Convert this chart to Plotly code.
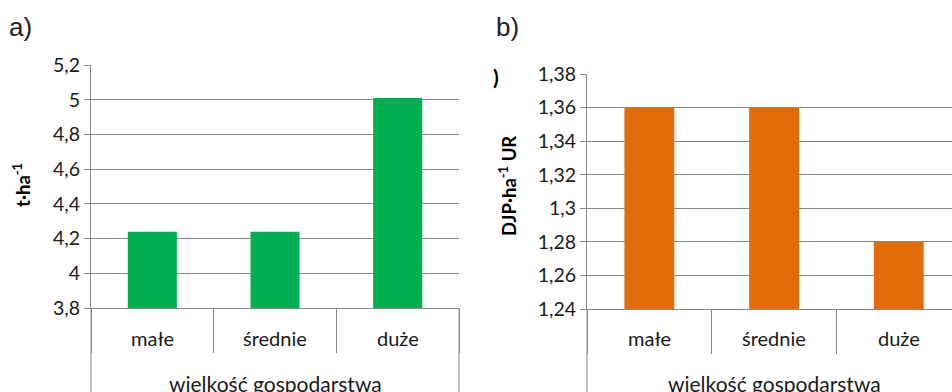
import plotly.graph_objects as go

categories = ["małe", "średnie", "duże"]
yield_values = [4.24, 4.24, 5.01]
livestock_values = [1.36, 1.36, 1.28]
left_ticks = [3.8, 4.0, 4.2, 4.4, 4.6, 4.8, 5.0, 5.2]
left_ticktext = ["3,8", "4", "4,2", "4,4", "4,6", "4,8", "5", "5,2"]
right_ticks = [1.24, 1.26, 1.28, 1.30, 1.32, 1.34, 1.36, 1.38]
right_ticktext = ["1,24", "1,26", "1,28", "1,3", "1,32", "1,34", "1,36", "1,38"]
x_title = "wielkość gospodarstwa"
left_ytitle = "<b>t·ha<sup>-1</sup></b>"
right_ytitle = "<b>DJP·ha<sup>-1</sup> UR</b>"

W, H = 952, 392
GRID = "#8a8a8a"
TXT = "#1a1a1a"
FONT = "Lato"

def px(x):
    return x / W

def py(y):
    return 1 - y / H

fig = go.Figure()
fig.add_trace(go.Bar(x=categories, y=yield_values, marker=dict(color="#00b050", line_width=0),
                     xaxis="x", yaxis="y", width=0.4, hoverinfo="skip"))
fig.add_trace(go.Bar(x=categories, y=livestock_values, marker=dict(color="#e36c0a", line_width=0),
                     xaxis="x2", yaxis="y2", width=0.4, hoverinfo="skip"))

xcommon = dict(type="category", showgrid=False, showline=True, linecolor=GRID, linewidth=1,
               ticks="outside", tickson="boundaries", ticklen=44, tickcolor=GRID, tickwidth=1,
               showticklabels=False, fixedrange=True, automargin=False)
ycommon = dict(showgrid=True, gridcolor=GRID, gridwidth=1, showline=True, linecolor=GRID,
               linewidth=1, ticks="outside", ticklen=6, tickcolor=GRID, tickwidth=1,
               zeroline=False, tickfont=dict(family=FONT, size=19.5, color=TXT), fixedrange=True,
               automargin=False)

fig.update_layout(
    width=W, height=H, margin=dict(l=0, r=0, t=0, b=0, pad=0, autoexpand=False),
    paper_bgcolor="white", plot_bgcolor="white", showlegend=False,
    xaxis=dict(domain=[px(91), px(459)], range=[-0.5, 2.5], anchor="y", **xcommon),
    yaxis=dict(domain=[py(308), py(65)], range=[3.8, 5.2], tickvals=left_ticks,
               ticktext=left_ticktext, anchor="x", **ycommon),
    xaxis2=dict(domain=[px(587), 1.0], range=[-0.5, -0.5 + (W - 587) / 124.7], anchor="y2", **xcommon),
    yaxis2=dict(domain=[py(309), py(74)], range=[1.24, 1.38], tickvals=right_ticks,
                ticktext=right_ticktext, anchor="x2", **ycommon),
)

shapes = [
    dict(type="line", xref="x domain", x0=0, x1=0, yref="paper", y0=0, y1=py(308), line=dict(color=GRID, width=1)),
    dict(type="line", xref="x domain", x0=1, x1=1, yref="paper", y0=0, y1=py(308), line=dict(color=GRID, width=1)),
    dict(type="line", xref="x2 domain", x0=0, x1=0, yref="paper", y0=0, y1=py(309), line=dict(color=GRID, width=1)),
]
fig.update_layout(shapes=shapes)

def A(x, y, text, size, color=TXT, family=FONT, xref="paper", angle=0):
    return dict(x=x, y=y, xref=xref, yref="paper", text=text, showarrow=False, textangle=angle,
                xanchor="center", yanchor="middle", font=dict(family=family, size=size, color=color))

ann = []
for xref in ["x", "x2"]:
    for c in categories:
        ann.append(A(c, py(338), c, 20, xref=xref))
    ann.append(A(categories[1], py(383), x_title, 21, xref=xref))
ann.append(A(px(22), py(185), left_ytitle, 18.5, color="#000", angle=-90))
ann.append(A(px(507), py(186), right_ytitle, 18.5, color="#000", angle=-90))
ann.append(A(px(496), py(77), "<b>)</b>", 21, color="#000"))
ann.append(A(px(20), py(27), "a)", 26, color="#222", family="Liberation Sans"))
ann.append(A(px(507), py(27), "b)", 26, color="#222", family="Liberation Sans"))
fig.update_layout(annotations=ann)

fig.write_html("out.html", config={"displayModeBar": False},
               post_script="document.body.style.margin='0';document.body.style.overflow='hidden';")
